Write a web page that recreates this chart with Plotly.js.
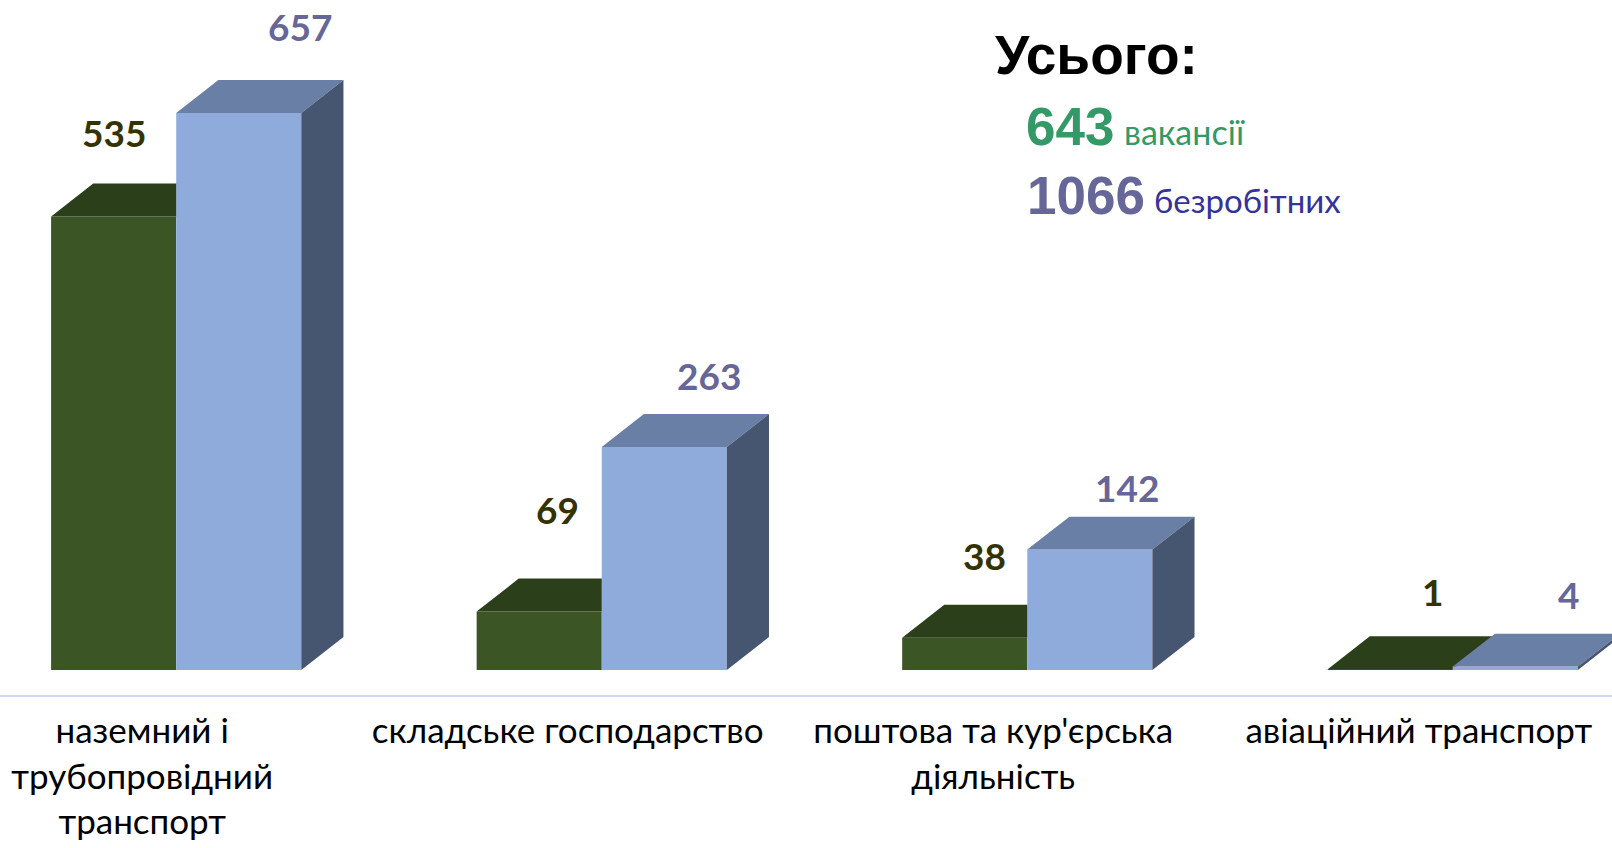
<!DOCTYPE html>
<html>
<head>
<meta charset="utf-8">
<script src="https://cdn.plot.ly/plotly-3.0.1.min.js"></script>
<style>html,body{margin:0;padding:0;background:#fff;}#chart{width:1612px;height:848px;}</style>
</head>
<body>
<div id="chart"></div>
<script>
// ---- data ----
const categories = ['наземний і трубопровідний транспорт', 'складське господарство', "поштова та кур'єрська діяльність", 'авіаційний транспорт'];
const tickLabels = ['наземний і<br>трубопровідний<br>транспорт', 'складське господарство', "поштова та кур'єрська<br>діяльність", 'авіаційний транспорт'];
const vacancies = [535, 69, 38, 1];
const unemployed = [657, 263, 142, 4];
const totalVacancies = 643;
const totalUnemployed = 1066;

// ---- style ----
const LABEL_FONT = 'Lato, "Noto Sans", sans-serif';
const ARIAL = '"Liberation Sans", Arial, sans-serif';
const C = {
  greenFront: '#3b5524', greenTop: '#2c3f1b',
  blueFront: '#8eabdb', blueTop: '#6a7fa5', blueSide: '#475670',
  greenLabel: '#333300', blueLabel: '#666699', axis: '#d4d4f4'
};
const BAR_W = 0.294, GREEN_OFF = -0.214, BLUE_OFF = 0.080;
const DEPTH_X = 0.099, DEPTH_Y = 38.9;
// label shifts (px) relative to front-face centre / value
const greenLabelShift = [[0, 84], [18, 102], [20, 82], [42, 78]];
const blueLabelShift = [[61, 87], [45, 72], [37, 62], [53, 72]];

const idx = categories.map((_, i) => i);

function poly(list) {
  const xs = [], ys = [];
  list.forEach(p => { p.forEach(pt => { xs.push(pt[0]); ys.push(pt[1]); }); xs.push(null); ys.push(null); });
  return { xs, ys };
}

// green top faces, clipped where the blue front face hides them
const greenTops = poly(idx.map(i => {
  const L = i + GREEN_OFF, R = L + BAR_W, hg = vacancies[i], hb = unemployed[i];
  const c = Math.min(hb, hg + DEPTH_Y);
  return [[L, hg], [R, hg], [R, c], [R + (c - hg) * DEPTH_X / DEPTH_Y, c], [R + DEPTH_X, hg + DEPTH_Y], [L + DEPTH_X, hg + DEPTH_Y]];
}));
const blueTops = poly(idx.map(i => {
  const L = i + BLUE_OFF, R = L + BAR_W, h = unemployed[i];
  return [[L, h], [R, h], [R + DEPTH_X, h + DEPTH_Y], [L + DEPTH_X, h + DEPTH_Y]];
}));
const blueSides = poly(idx.map(i => {
  const R = i + BLUE_OFF + BAR_W, h = unemployed[i];
  return [[R, 0], [R, h], [R + DEPTH_X, h + DEPTH_Y], [R + DEPTH_X, DEPTH_Y]];
}));

const face = (p, color, name) => ({
  type: 'scatter', mode: 'lines', x: p.xs, y: p.ys, fill: 'toself', fillcolor: color,
  line: { width: 0, color: color }, hoverinfo: 'skip', showlegend: false, name
});

const traces = [
  { type: 'bar', name: 'вакансії', x: idx, y: vacancies, width: BAR_W, offset: GREEN_OFF,
    marker: { color: C.greenFront, line: { width: 0 } }, customdata: categories,
    hovertemplate: '%{customdata}<br>вакансії: %{y}<extra></extra>' },
  { type: 'bar', name: 'безробітні', x: idx, y: unemployed, width: BAR_W, offset: BLUE_OFF,
    marker: { color: C.blueFront, line: { width: 0 } }, customdata: categories,
    hovertemplate: '%{customdata}<br>безробітні: %{y}<extra></extra>' },
  face(greenTops, C.greenTop, 'green top'),
  face(blueTops, C.blueTop, 'blue top'),
  face(blueSides, C.blueSide, 'blue side')
];

const annotations = [];
idx.forEach(i => {
  annotations.push({ xref: 'x', yref: 'y', x: i + GREEN_OFF + BAR_W / 2, y: vacancies[i],
    text: '<b>' + vacancies[i] + '</b>', showarrow: false, xanchor: 'center', yanchor: 'middle',
    xshift: greenLabelShift[i][0], yshift: greenLabelShift[i][1],
    font: { family: LABEL_FONT, size: 37, color: C.greenLabel } });
  annotations.push({ xref: 'x', yref: 'y', x: i + BLUE_OFF + BAR_W / 2, y: unemployed[i],
    text: '<b>' + unemployed[i] + '</b>', showarrow: false, xanchor: 'center', yanchor: 'middle',
    xshift: blueLabelShift[i][0], yshift: blueLabelShift[i][1],
    font: { family: LABEL_FONT, size: 37, color: C.blueLabel } });
});
const PH = 695; // plot height in px
const py = v => (PH - v) / PH;
annotations.push(
  { xref: 'paper', yref: 'paper', x: 993 / 1612, y: py(55), xanchor: 'left', yanchor: 'middle', showarrow: false,
    text: '<b>Усього:</b>', font: { family: ARIAL, size: 55, color: '#000000' } },
  { xref: 'paper', yref: 'paper', x: 1024 / 1612, y: py(126), xanchor: 'left', yanchor: 'middle', showarrow: false,
    text: '<b>' + totalVacancies + '</b>', font: { family: ARIAL, size: 53, color: '#339966' } },
  { xref: 'paper', yref: 'paper', x: 1122 / 1612, y: py(132), xanchor: 'left', yanchor: 'middle', showarrow: false,
    text: 'вакансії', font: { family: LABEL_FONT, size: 34, color: '#339966' } },
  { xref: 'paper', yref: 'paper', x: 1025 / 1612, y: py(195), xanchor: 'left', yanchor: 'middle', showarrow: false,
    text: '<b>' + totalUnemployed + '</b>', font: { family: ARIAL, size: 53, color: '#666699' } },
  { xref: 'paper', yref: 'paper', x: 1152 / 1612, y: py(200), xanchor: 'left', yanchor: 'middle', showarrow: false,
    text: 'безробітних', font: { family: LABEL_FONT, size: 33, color: '#333399' } }
);

const PPU = 0.8478; // px per unit
const yMin = -25 / PPU;
const layout = {
  width: 1612, height: 848,
  margin: { l: 0, r: 0, t: 0, b: 848 - PH, pad: 0 },
  paper_bgcolor: '#ffffff', plot_bgcolor: '#ffffff',
  showlegend: false, barmode: 'overlay',
  xaxis: {
    range: [-142 / 425, 3 + (1612 - 1419) / 425],
    tickvals: idx, ticktext: tickLabels, ticks: '', showgrid: false, zeroline: false,
    showline: true, linecolor: C.axis, linewidth: 2, ticklabelstandoff: 4,
    tickfont: { family: LABEL_FONT, size: 35, color: '#000000' }, fixedrange: true
  },
  yaxis: { range: [yMin, yMin + PH / PPU], visible: false, fixedrange: true },
  annotations
};

Plotly.newPlot('chart', traces, layout, { displayModeBar: false, responsive: false });
</script>
</body>
</html>
